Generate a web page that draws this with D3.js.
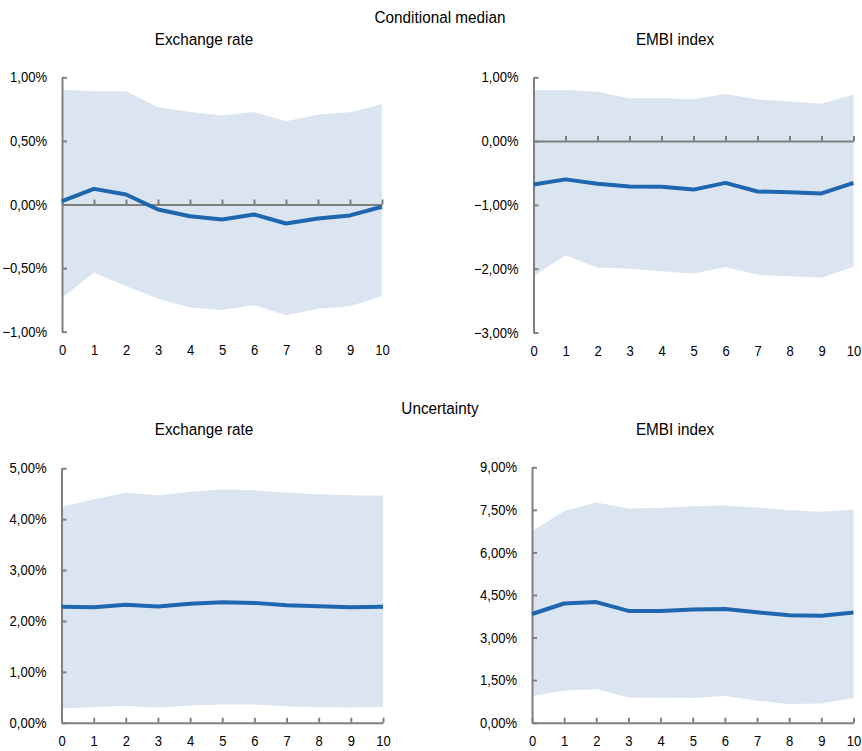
<!DOCTYPE html>
<html>
<head>
<meta charset="utf-8">
<script src="https://cdn.jsdelivr.net/npm/d3@7"></script>
<style>
  html, body { margin: 0; padding: 0; background: #fff; }
  svg { display: block; }
  text { font-family: "Liberation Sans", Arial, sans-serif; fill: #000; }
</style>
</head>
<body>
<svg id="chart" width="862" height="751"></svg>
<script>
// Horizons (periods after the shock)
const horizons = [0, 1, 2, 3, 4, 5, 6, 7, 8, 9, 10];

// Conditional median – exchange rate (%)
const medFxMid   = [0.026, 0.123, 0.079, -0.039, -0.092, -0.118, -0.079, -0.149, -0.110, -0.086, -0.018];
const medFxUpper = [0.903, 0.890, 0.890, 0.764, 0.728, 0.700, 0.728, 0.654, 0.707, 0.725, 0.790];
const medFxLower = [-0.733, -0.537, -0.640, -0.740, -0.810, -0.830, -0.790, -0.870, -0.820, -0.800, -0.720];

// Conditional median – EMBI index (%)
const medEmbiMid   = [-0.68, -0.60, -0.67, -0.71, -0.715, -0.76, -0.655, -0.79, -0.80, -0.82, -0.655];
const medEmbiUpper = [0.80, 0.80, 0.775, 0.67, 0.675, 0.655, 0.74, 0.655, 0.62, 0.587, 0.73];
const medEmbiLower = [-2.12, -1.79, -1.98, -2.00, -2.04, -2.075, -1.975, -2.095, -2.12, -2.14, -1.97];

// Uncertainty – exchange rate (%)
const uncFxMid   = [2.28, 2.27, 2.32, 2.285, 2.34, 2.365, 2.355, 2.31, 2.29, 2.27, 2.28];
const uncFxUpper = [4.24, 4.39, 4.52, 4.47, 4.54, 4.585, 4.57, 4.52, 4.49, 4.47, 4.46];
const uncFxLower = [0.28, 0.31, 0.33, 0.30, 0.34, 0.36, 0.36, 0.32, 0.31, 0.30, 0.31];

// Uncertainty – EMBI index (%)
const uncEmbiMid   = [3.83, 4.20, 4.25, 3.94, 3.94, 3.99, 4.01, 3.89, 3.79, 3.77, 3.88];
const uncEmbiUpper = [6.75, 7.46, 7.76, 7.55, 7.57, 7.63, 7.65, 7.58, 7.49, 7.43, 7.51];
const uncEmbiLower = [0.94, 1.13, 1.19, 0.89, 0.88, 0.87, 0.94, 0.77, 0.66, 0.68, 0.87];

// Y tick values per panel
const ticksMedFx   = [-1, -0.5, 0, 0.5, 1];
const ticksMedEmbi = [-3, -2, -1, 0, 1];
const ticksUncFx   = [0, 1, 2, 3, 4, 5];
const ticksUncEmbi = [0, 1.5, 3, 4.5, 6, 7.5, 9];

// Section and panel titles
const sectionTitles = ["Conditional median", "Uncertainty"];
const panelTitles = ["Exchange rate", "EMBI index"];

const panels = [
  { title: panelTitles[0], mid: medFxMid, up: medFxUpper, lo: medFxLower, ticks: ticksMedFx,
    left: 62, right: 382, top: 77.3, bottom: 331.7, titleX: 204, titleY: 45 },
  { title: panelTitles[1], mid: medEmbiMid, up: medEmbiUpper, lo: medEmbiLower, ticks: ticksMedEmbi,
    left: 533.5, right: 853.5, top: 77.3, bottom: 332.5, titleX: 675, titleY: 45 },
  { title: panelTitles[0], mid: uncFxMid, up: uncFxUpper, lo: uncFxLower, ticks: ticksUncFx,
    left: 61.5, right: 383, top: 468.3, bottom: 722.7, titleX: 204, titleY: 435 },
  { title: panelTitles[1], mid: uncEmbiMid, up: uncEmbiUpper, lo: uncEmbiLower, ticks: ticksUncEmbi,
    left: 532, right: 853.5, top: 467.3, bottom: 722.7, titleX: 675, titleY: 435 }
];

const svg = d3.select("#chart");
const SX = 0.9; // horizontal compression of the typeface
const fmt = v => d3.format(".2f")(v).replace(".", ",") + "%";

// Section headings
[[sectionTitles[0], 23], [sectionTitles[1], 414]].forEach(([t, y]) => {
  svg.append("text")
    .attr("transform", `translate(440,${y}) scale(${SX},1)`)
    .attr("text-anchor", "middle")
    .style("font-size", "17px")
    .text(t);
});

panels.forEach(p => {
  const x = d3.scaleLinear().domain([0, 10]).range([p.left, p.right]);
  const y = d3.scaleLinear().domain(d3.extent(p.ticks)).range([p.bottom, p.top]);
  const g = svg.append("g");

  // Panel title
  g.append("text")
    .attr("transform", `translate(${p.titleX},${p.titleY}) scale(${SX},1)`)
    .attr("text-anchor", "middle")
    .style("font-size", "17px")
    .text(p.title);

  // Confidence band
  const area = d3.area()
    .x((d, i) => x(horizons[i]))
    .y0((d, i) => y(p.lo[i]))
    .y1((d, i) => y(p.up[i]));
  g.append("path").datum(p.mid).attr("d", area).attr("fill", "#dbe5f1");

  // Y axis (ticks pointing inward)
  const yAxis = d3.axisLeft(y).tickValues(p.ticks).tickSizeInner(-5).tickSizeOuter(0).tickFormat(fmt);
  const ya = g.append("g").attr("transform", `translate(${p.left},0)`).call(yAxis);
  ya.select(".domain").attr("stroke", "#808080").attr("stroke-width", 2);
  ya.selectAll(".tick line").attr("stroke", "#808080").attr("stroke-width", 2);
  ya.selectAll(".tick text")
    .attr("x", -15 / SX)
    .attr("transform", `scale(${SX},1)`)
    .style("font-size", "14.5px")
    .style("font-family", '"Liberation Sans", Arial, sans-serif')
    .attr("fill", "#000");

  // X axis line at zero with upward ticks
  const y0 = y(Math.max(0, y.domain()[0]));
  const xAxis = d3.axisBottom(x).tickValues(horizons).tickSizeInner(-5).tickSizeOuter(0).tickFormat("");
  const xa = g.append("g").attr("transform", `translate(0,${y0})`).call(xAxis);
  xa.select(".domain").attr("stroke", "#808080").attr("stroke-width", 2);
  xa.selectAll(".tick line").attr("stroke", "#808080").attr("stroke-width", 2);

  // X tick labels below the plot
  const xl = g.append("g").attr("transform", `translate(0,${p.bottom})`)
    .call(d3.axisBottom(x).tickValues(horizons).tickSize(0).tickPadding(13).tickFormat(d3.format("d")));
  xl.select(".domain").remove();
  xl.selectAll(".tick text")
    .attr("transform", `scale(${SX},1)`)
    .style("font-size", "14.5px")
    .style("font-family", '"Liberation Sans", Arial, sans-serif')
    .attr("fill", "#000");

  // Median path
  const line = d3.line().x((d, i) => x(horizons[i])).y(d => y(d));
  g.append("path").datum(p.mid).attr("d", line)
    .attr("fill", "none").attr("stroke", "#1f66b0").attr("stroke-width", 4)
    .attr("stroke-linejoin", "round");
});
</script>
</body>
</html>
